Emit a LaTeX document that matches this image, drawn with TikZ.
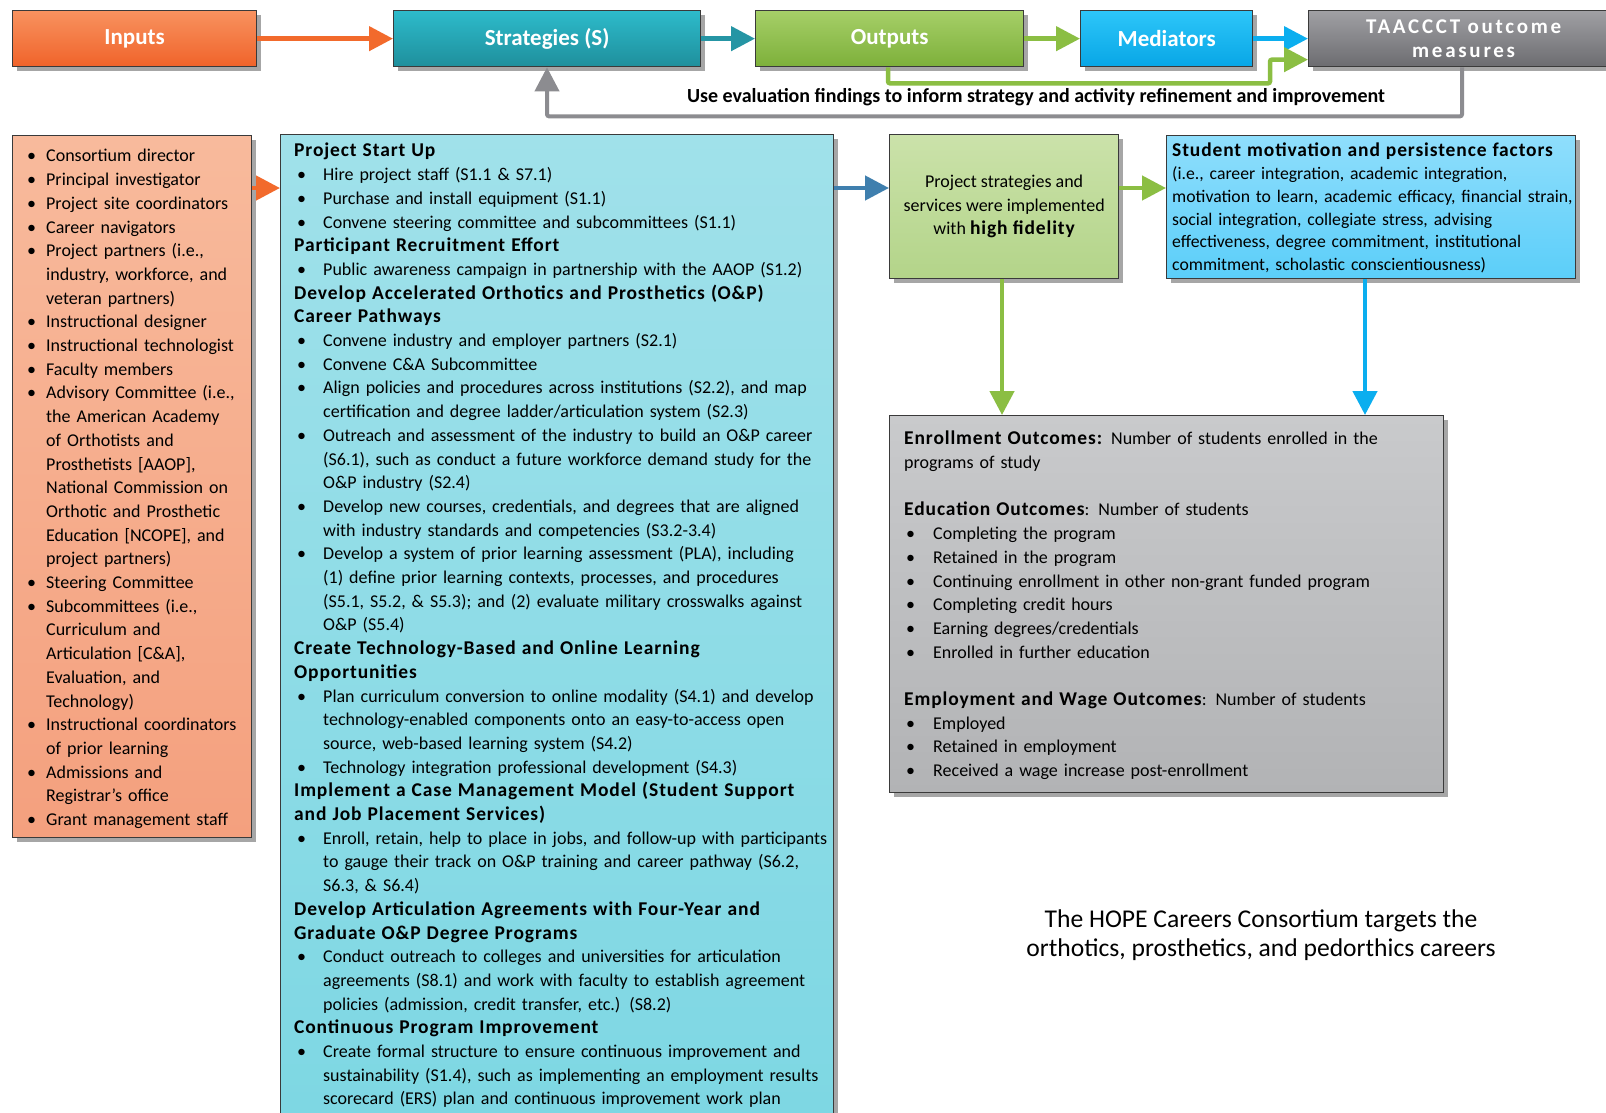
\documentclass[tikz,border=0pt]{standalone}
\usepackage{fontspec}
\setmainfont{Carlito}
\usetikzlibrary{arrows.meta,shadows,calc}
\definecolor{edgec}{HTML}{3A3A3A}
\definecolor{inT}{HTML}{F8925F}\definecolor{inB}{HTML}{F0632A}
\definecolor{stT}{HTML}{2DBBCB}\definecolor{stB}{HTML}{1F8F9C}
\definecolor{ouT}{HTML}{A6CF68}\definecolor{ouB}{HTML}{7DB03A}
\definecolor{meT}{HTML}{2DC6F9}\definecolor{meB}{HTML}{08A6E6}
\definecolor{taT}{HTML}{A0A0A4}\definecolor{taB}{HTML}{6C6C70}
\definecolor{linT}{HTML}{F8BA9C}\definecolor{linB}{HTML}{F4A07E}
\definecolor{lstT}{HTML}{A0E1EA}\definecolor{lstB}{HTML}{7DD7E3}
\definecolor{louT}{HTML}{CBE2AA}\definecolor{louB}{HTML}{B3D489}
\definecolor{lmeT}{HTML}{8FDEFC}\definecolor{lmeB}{HTML}{5BCEF9}
\definecolor{locT}{HTML}{C9CACC}\definecolor{locB}{HTML}{B2B3B5}
\definecolor{aOrange}{HTML}{F26A2C}
\definecolor{aTeal}{HTML}{2595A4}
\definecolor{aSteel}{HTML}{3F7FAE}
\definecolor{aGreen}{HTML}{8BBE43}
\definecolor{aBlue}{HTML}{0BAEEF}
\definecolor{aGray}{HTML}{8C8C90}
\newlength\bulind \newlength\bulofs
\newcommand\bul[1]{\par\begingroup\let\\\newline\hangindent=\bulind\hangafter=1\noindent\makebox[\bulind][l]{\hspace{\bulofs}\textbullet}#1\par\endgroup}
\newcommand\bfx[1]{{\fontsize{19.5}{23.7}\selectfont\bfseries\addfontfeature{LetterSpace=4.5}#1}}
\newcommand\hd[1]{\par\noindent\bfx{#1}\par}
\newcommand\blankline{\par\noindent\mbox{}\par}
\tikzset{
  boxbase/.style={rectangle, draw=edgec, line width=1.3pt, inner sep=0pt, anchor=north west,
    drop shadow={shadow xshift=4pt, shadow yshift=-4pt, fill=black, opacity=0.35}},
  headbox/.style={boxbase, minimum height=56pt, text=white, font=\fontsize{23}{24}\selectfont\bfseries, align=center},
  txt/.style={inner sep=0pt, anchor=north west, font=\fontsize{18}{23.7}\selectfont},
  arr/.style={line width=4.5pt, -{Triangle[length=24pt,width=24pt]}},
}
\begin{document}
\begin{tikzpicture}[x=1pt,y=-1pt]
\useasboundingbox (0,0) rectangle (1606,1112);
\clip (0,0) rectangle (1606,1112);
\fill[white] (0,0) rectangle (1606,1112);
% header row
\node[headbox, top color=inT, bottom color=inB, minimum width=244pt] (hIn) at (12,10) {Inputs};
\node[headbox, top color=stT, bottom color=stB, minimum width=307pt] (hStr) at (393,10) {Strategies (S)};
\node[headbox, top color=ouT, bottom color=ouB, minimum width=268pt] (hOut) at (755,10) {Outputs};
\node[headbox, top color=meT, bottom color=meB, minimum width=172pt] (hMed) at (1080,10) {Mediators};
\node[headbox, top color=taT, bottom color=taB, minimum width=310pt, font=\fontsize{21}{24}\selectfont\bfseries\addfontfeature{LetterSpace=13}] (hTaa) at (1308,10) {TAACCCT outcome\\measures};
% header arrows
\draw[arr, aOrange] (hIn.east) -- (hStr.west);
\draw[arr, aTeal] (hStr.east) -- (hOut.west);
\draw[arr, aGreen] (hOut.east) -- (hMed.west);
\draw[arr, aBlue] (hMed.east) -- (hTaa.west);
\coordinate (g1) at ($(hOut.south west)+(133,16)$);
\coordinate (g2) at ($(hTaa.south west)+(-38,16)$);
\draw[arr, aGreen, rounded corners=2pt] (hOut.south -| g1) -- (g1) -- (g2) -- ($(hTaa.west)+(-38,21)$) -- ($(hTaa.west)+(0,21)$);
\coordinate (f1) at ($(hTaa.south west)+(154,49)$);
\coordinate (f2) at ($(hStr.south west)+(154,49)$);
\draw[arr, aGray, line width=4pt, rounded corners=2pt] (hTaa.south -| f1) -- (f1) -- (f2) -- (hStr.south -| f2);
\node[font=\fontsize{20}{23}\selectfont\bfseries] (fbl) at (1036,97) {Use evaluation findings to inform strategy and activity refinement and improvement};
% big boxes
\node[boxbase, top color=linT, bottom color=linB, minimum width=239pt, minimum height=702pt] (bIn) at (12,135) {};
\node[boxbase, top color=lstT, bottom color=lstB, minimum width=553pt, minimum height=1000pt] (bStr) at (280,134) {};
\node[boxbase, top color=louT, bottom color=louB, minimum width=229pt, minimum height=144pt, font=\fontsize{18}{23.5}\selectfont, align=center] (bOut) at (889,134) {\rule{0pt}{4pt}Project strategies and\\services were implemented\\with \bfx{high fidelity}};
\node[boxbase, top color=lmeT, bottom color=lmeB, minimum width=409pt, minimum height=143pt] (bMed) at (1166,135) {};
\node[boxbase, top color=locT, bottom color=locB, minimum width=554pt, minimum height=377pt] (bOc) at (889,415) {};
% connectors
\draw[arr, aOrange] ($(bIn.north east)+(0,53)$) -- ($(bStr.north west)+(0,54)$);
\draw[arr, aSteel] ($(bStr.north east)+(0,54)$) -- ($(bOut.north west)+(0,54)$);
\draw[arr, aGreen] ($(bOut.north east)+(0,54)$) -- ($(bMed.north west)+(0,53)$);
\draw[arr, aGreen] ($(bOut.south west)+(113,0)$) -- ($(bOc.north west)+(113,0)$);
\draw[arr, aBlue] ($(bMed.south west)+(199,0)$) -- ($(bOc.north west)+(476,0)$);
% inputs text
\node[txt, text width=228pt] (tIn) at (20,138) {\setlength\bulind{26pt}\setlength\bulofs{7pt}\raggedright\parindent=0pt
\bul{Consortium director}
\bul{Principal investigator}
\bul{Project site coordinators}
\bul{Career navigators}
\bul{Project partners (i.e.,\\ industry, workforce, and\\ veteran partners)}
\bul{Instructional designer}
\bul{Instructional technologist}
\bul{Faculty members}
\bul{Advisory Committee (i.e.,\\ the American Academy\\ of Orthotists and\\ Prosthetists [AAOP],\\ National Commission on\\ Orthotic and Prosthetic\\ Education [NCOPE], and\\ project partners)}
\bul{Steering Committee}
\bul{Subcommittees (i.e.,\\ Curriculum and\\ Articulation [C\&A],\\ Evaluation, and\\ Technology)}
\bul{Instructional coordinators\\ of prior learning}
\bul{Admissions and\\ Registrar’s office}
\bul{Grant management staff}};
% strategies text
\node[txt, text width=545pt] (tStr) at (294,133) {\setlength\bulind{29pt}\setlength\bulofs{3pt}\raggedright\parindent=0pt
\hd{Project Start Up}
\bul{Hire project staff (S1.1 \& S7.1)}
\bul{Purchase and install equipment (S1.1)}
\bul{Convene steering committee and subcommittees (S1.1)}
\hd{Participant Recruitment Effort}
\bul{Public awareness campaign in partnership with the AAOP (S1.2)}
\hd{Develop Accelerated Orthotics and Prosthetics (O\&P)\\ Career Pathways}
\bul{Convene industry and employer partners (S2.1)}
\bul{Convene C\&A Subcommittee}
\bul{Align policies and procedures across institutions (S2.2), and map\\ certification and degree ladder/articulation system (S2.3)}
\bul{Outreach and assessment of the industry to build an O\&P career\\ (S6.1), such as conduct a future workforce demand study for the\\ O\&P industry (S2.4)}
\bul{Develop new courses, credentials, and degrees that are aligned\\ with industry standards and competencies (S3.2-3.4)}
\bul{Develop a system of prior learning assessment (PLA), including\\ (1) define prior learning contexts, processes, and procedures\\ (S5.1, S5.2, \& S5.3); and (2) evaluate military crosswalks against\\ O\&P (S5.4)}
\hd{Create Technology-Based and Online Learning\\ Opportunities}
\bul{Plan curriculum conversion to online modality (S4.1) and develop\\ technology-enabled components onto an easy-to-access open\\ source, web-based learning system (S4.2)}
\bul{Technology integration professional development (S4.3)}
\hd{Implement a Case Management Model (Student Support\\ and Job Placement Services)}
\bul{Enroll, retain, help to place in jobs, and follow-up with participants\\ to gauge their track on O\&P training and career pathway (S6.2,\\ S6.3, \& S6.4)}
\hd{Develop Articulation Agreements with Four-Year and\\ Graduate O\&P Degree Programs}
\bul{Conduct outreach to colleges and universities for articulation\\ agreements (S8.1) and work with faculty to establish agreement\\ policies (admission, credit transfer, etc.) (S8.2)}
\hd{Continuous Program Improvement}
\bul{Create formal structure to ensure continuous improvement and\\ sustainability (S1.4), such as implementing an employment results\\ scorecard (ERS) plan and continuous improvement work plan}};
% mediators text
\node[txt, text width=420pt, font=\fontsize{17.7}{22.7}\selectfont] (tMed) at (1172,143) {\raggedright\parindent=0pt
\bfx{Student motivation and persistence factors}\\
(i.e., career integration, academic integration,\\
motivation to learn, academic efficacy, financial strain,\\
social integration, collegiate stress, advising\\
effectiveness, degree commitment, institutional\\
commitment, scholastic conscientiousness)};
% outcomes text
\node[txt, text width=540pt] (tOc) at (904,431) {\setlength\bulind{29pt}\setlength\bulofs{2pt}\raggedright\parindent=0pt
\noindent\bfx{Enrollment Outcomes:} Number of students enrolled in the\\ programs of study\par
\blankline
\noindent\bfx{Education Outcomes}: Number of students\par
\bul{Completing the program}
\bul{Retained in the program}
\bul{Continuing enrollment in other non-grant funded program}
\bul{Completing credit hours}
\bul{Earning degrees/credentials}
\bul{Enrolled in further education}
\blankline
\noindent\bfx{Employment and Wage Outcomes}: Number of students\par
\bul{Employed}
\bul{Retained in employment}
\bul{Received a wage increase post-enrollment}};
% bottom note
\node[font=\fontsize{25.6}{28.5}\selectfont, align=center] (note) at (1261,935) {The HOPE Careers Consortium targets the\\orthotics, prosthetics, and pedorthics careers};
\end{tikzpicture}
\end{document}
